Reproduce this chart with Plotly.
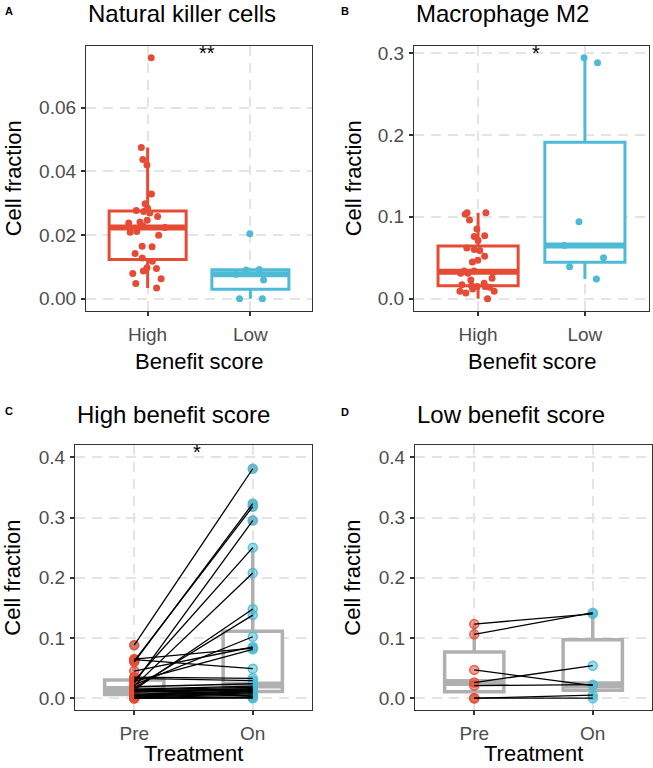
import numpy as np
import plotly.graph_objects as go

W, H = 653, 768

# ---------------- data ----------------
# Panel A: Natural killer cells (cell fraction by benefit score)
nk_high = [0.0756, 0.0475, 0.0437, 0.0420, 0.0329, 0.0298, 0.0284, 0.0277, 0.0274,
           0.0269, 0.0258, 0.0246, 0.0241, 0.0238, 0.0228, 0.0224, 0.0211, 0.0209,
           0.0199, 0.0165, 0.0163, 0.0142, 0.0128, 0.0118, 0.0097, 0.0095, 0.0087,
           0.0079, 0.0063, 0.0048, 0.0034]
nk_low = [0.0204, 0.0092, 0.0090, 0.0077, 0.0059, 0.0, 0.0]

# Panel B: Macrophage M2
m2_high = [0.105, 0.105, 0.103, 0.096, 0.085, 0.077, 0.076, 0.071, 0.062, 0.060,
           0.059, 0.052, 0.047, 0.045, 0.034, 0.034, 0.032, 0.031, 0.031, 0.025,
           0.023, 0.019, 0.017, 0.016, 0.015, 0.015, 0.014, 0.012, 0.009, 0.009,
           0.007, 0.0]
m2_low = [0.294, 0.288, 0.094, 0.065, 0.050, 0.039, 0.024]

# Panel C: High benefit score, paired pre / on treatment
c_pre = [0.088, 0.062, 0.060, 0.025, 0.029, 0.020, 0.017, 0.014, 0.064, 0.065,
         0.045, 0.028, 0.022, 0.035, 0.033, 0.019, 0.015, 0.014, 0.013, 0.012,
         0.012, 0.011, 0.010, 0.0065, 0.005, 0.004, 0.003, 0.002, 0.001, 0.0,
         0.0, 0.0]
c_on = [0.381, 0.318, 0.323, 0.295, 0.250, 0.208, 0.138, 0.148, 0.049, 0.083,
        0.085, 0.081, 0.102, 0.033, 0.029, 0.024, 0.020, 0.018, 0.003, 0.016,
        0.015, 0.014, 0.013, 0.012, 0.011, 0.011, 0.009, 0.007, 0.005, 0.002,
        0.001, 0.0]

# Panel D: Low benefit score, paired pre / on treatment
d_pre = [0.123, 0.106, 0.047, 0.026, 0.021, 0.0, 0.0]
d_on = [0.140, 0.142, 0.021, 0.054, 0.0225, 0.005, 0.0]

benefit_labels = ["High", "Low"]
treatment_labels = ["Pre", "On"]
ticks_a = [0.0, 0.02, 0.04, 0.06]
ticklabels_a = ["0.00", "0.02", "0.04", "0.06"]
ticks_b = [0.0, 0.1, 0.2, 0.3]
ticklabels_b = ["0.0", "0.1", "0.2", "0.3"]
ticks_cd = [0.0, 0.1, 0.2, 0.3, 0.4]
ticklabels_cd = ["0.0", "0.1", "0.2", "0.3", "0.4"]
cd_limit = 0.4

titles = ["Natural killer cells", "Macrophage M2", "High benefit score", "Low benefit score"]
signif = ["**", "*", "*", ""]

# ---------------- style ----------------
RED = "#E64B35"
BLUE = "#4DBBD5"
GRAY = "#B0B0B0"
FONT = "Liberation Sans, Arial, Helvetica, sans-serif"
GRID = "#E4E4E4"


def px_x(x):
    return x / W


def px_y(y):
    return 1 - y / H


def box_stats(v):
    v = np.asarray(v, float)
    q1, med, q3 = np.percentile(v, [25, 50, 75])
    iqr = q3 - q1
    lo_f, hi_f = q1 - 1.5 * iqr, q3 + 1.5 * iqr
    inside = v[(v >= lo_f) & (v <= hi_f)]
    out = v[(v < lo_f) | (v > hi_f)]
    return q1, med, q3, inside.min(), inside.max(), out


fig = go.Figure()


def add_box(vals, pos, color, xa, ya, width, lw, mw, show_out=False, out_size=10):
    q1, med, q3, lo, hi, out = box_stats(vals)
    fig.add_trace(go.Box(
        x=[pos], q1=[q1], median=[med], q3=[q3], lowerfence=[lo], upperfence=[hi],
        width=width, whiskerwidth=0, fillcolor="white", boxpoints=False,
        line=dict(color=color, width=lw), xaxis=xa, yaxis=ya, hoverinfo="skip"))
    fig.add_trace(go.Scatter(
        x=[pos - width / 2, pos + width / 2], y=[med, med], mode="lines",
        line=dict(color=color, width=mw), xaxis=xa, yaxis=ya, hoverinfo="skip"))
    if show_out and len(out):
        fig.add_trace(go.Scatter(
            x=[pos] * len(out), y=list(out), mode="markers",
            marker=dict(color=color, size=out_size), xaxis=xa, yaxis=ya, hoverinfo="skip"))


def add_jitter(vals, pos, color, xa, ya):
    fig.add_trace(go.Box(
        y=vals, x0=pos, width=0.75, boxpoints="all", jitter=0.6, pointpos=0,
        fillcolor="rgba(0,0,0,0)", line=dict(width=0, color="rgba(0,0,0,0)"),
        marker=dict(color=color, size=7, opacity=1), xaxis=xa, yaxis=ya,
        hoveron="points"))


# Panel A
add_box(nk_high, 1, RED, "x", "y", 0.75, 3, 6)
add_box(nk_low, 2, BLUE, "x", "y", 0.75, 3, 6)
add_jitter(nk_high, 1, RED, "x", "y")
add_jitter(nk_low, 2, BLUE, "x", "y")

# Panel B
add_box(m2_high, 1, RED, "x2", "y2", 0.75, 3, 6)
add_box(m2_low, 2, BLUE, "x2", "y2", 0.75, 3, 6)
add_jitter(m2_high, 1, RED, "x2", "y2")
add_jitter(m2_low, 2, BLUE, "x2", "y2")


def add_paired(pre, on, xa, ya):
    add_box(pre, 1, GRAY, xa, ya, 0.5, 3.5, 7, show_out=True)
    add_box(on, 2, GRAY, xa, ya, 0.5, 3.5, 7, show_out=True)
    for vals, pos, rgb in ((pre, 1, (230, 75, 53)), (on, 2, (77, 187, 213))):
        fig.add_trace(go.Scatter(
            x=[pos] * len(vals), y=vals, mode="markers",
            marker=dict(color="rgba(%d,%d,%d,0.55)" % rgb, size=9,
                        line=dict(color="rgba(%d,%d,%d,0.85)" % rgb, width=1.5)),
            xaxis=xa, yaxis=ya))
    xs, ys = [], []
    for a, b in zip(pre, on):
        xs += [1, 2, None]
        ys += [a, b, None]
    fig.add_trace(go.Scatter(x=xs, y=ys, mode="lines", line=dict(color="black", width=1.3),
                             xaxis=xa, yaxis=ya, hoverinfo="skip"))


add_paired(c_pre, c_on, "x3", "y3")
add_paired(d_pre, d_on, "x4", "y4")


def yrange(*groups):
    allv = np.concatenate([np.asarray(g, float) for g in groups])
    lo, hi = allv.min(), allv.max()
    pad = 0.05 * (hi - lo)
    return [lo - pad, hi + pad]


common_axis = dict(
    showgrid=True, gridcolor=GRID, gridwidth=1.6, griddash="10px,7px",
    showline=True, mirror=True, linecolor="#333333", linewidth=1.3,
    ticks="outside", ticklen=4, tickwidth=2, tickcolor="#333333",
    tickfont=dict(family=FONT, size=19, color="#4D4D4D"), zeroline=False,
)

# panel pixel boxes (left, right, top, bottom)
panels = [(86, 312, 43, 309), (414, 649, 43, 309), (75, 312, 444, 710), (415, 652, 444, 710)]

layout = dict(width=W, height=H, margin=dict(l=0, r=0, t=0, b=0),
              paper_bgcolor="white", plot_bgcolor="white", showlegend=False,
              font=dict(family=FONT, color="black"))

yr = [yrange(nk_high, nk_low), yrange(m2_high, m2_low),
      yrange([0.0, cd_limit]), yrange([0.0, cd_limit])]
yt = [(ticks_a, ticklabels_a), (ticks_b, ticklabels_b), (ticks_cd, ticklabels_cd), (ticks_cd, ticklabels_cd)]
xt = [benefit_labels, benefit_labels, treatment_labels, treatment_labels]
xr = [[0.4, 2.6], [0.4, 2.6], [0.5, 2.5], [0.5, 2.5]]

for i, (l, r, t, b) in enumerate(panels):
    sfx = "" if i == 0 else str(i + 1)
    layout["xaxis" + sfx] = dict(common_axis, domain=[px_x(l), px_x(r)], range=xr[i],
                                 tickvals=[1, 2], ticktext=xt[i], anchor="y" + sfx,
                                 ticklabelstandoff=2)
    layout["yaxis" + sfx] = dict(common_axis, domain=[px_y(b), px_y(t)], range=yr[i],
                                 tickvals=yt[i][0], ticktext=yt[i][1], anchor="x" + sfx,
                                 ticklabelstandoff=1)

fig.update_layout(**layout)

ann = []
letters = ["A", "B", "C", "D"]
letter_pos = [(3, 8), (339, 8), (3, 410), (339, 411)]
title_y = [11, 11, 413, 413]
ylab_x = [13, 353, 13, 353]
xlab_y = [360, 360, 753, 753]
xlabels = ["Benefit score", "Benefit score", "Treatment", "Treatment"]
star_pos = [(207, 50), (536, 50), (197, 451), None]

for i, (l, r, t, b) in enumerate(panels):
    lx, ly = letter_pos[i]
    ann.append(dict(text="<b>%s</b>" % letters[i], x=px_x(lx), y=px_y(ly), xref="paper", yref="paper",
                    xanchor="left", yanchor="middle", showarrow=False,
                    font=dict(family=FONT, size=11, color="black")))
    ann.append(dict(text=titles[i], x=px_x(l), y=px_y(title_y[i]), xref="paper", yref="paper",
                    xanchor="left", yanchor="middle", showarrow=False,
                    font=dict(family=FONT, size=24, color="black")))
    ann.append(dict(text="Cell fraction", x=px_x(ylab_x[i]), y=px_y((t + b) / 2), xref="paper",
                    yref="paper", textangle=-90, xanchor="center", yanchor="middle",
                    showarrow=False, font=dict(family=FONT, size=22, color="black")))
    ann.append(dict(text=xlabels[i], x=px_x((l + r) / 2), y=px_y(xlab_y[i]), xref="paper",
                    yref="paper", xanchor="center", yanchor="middle", showarrow=False,
                    font=dict(family=FONT, size=22, color="black")))
    if signif[i]:
        sx, sy = star_pos[i]
        ann.append(dict(text=signif[i], x=px_x(sx), y=px_y(sy), xref="paper", yref="paper",
                        xanchor="center", yanchor="middle", showarrow=False,
                        font=dict(family=FONT, size=20, color="black")))

fig.update_layout(annotations=ann)
fig.write_html("out.html", config={"displayModeBar": False},
               post_script="document.body.style.margin='0';")
